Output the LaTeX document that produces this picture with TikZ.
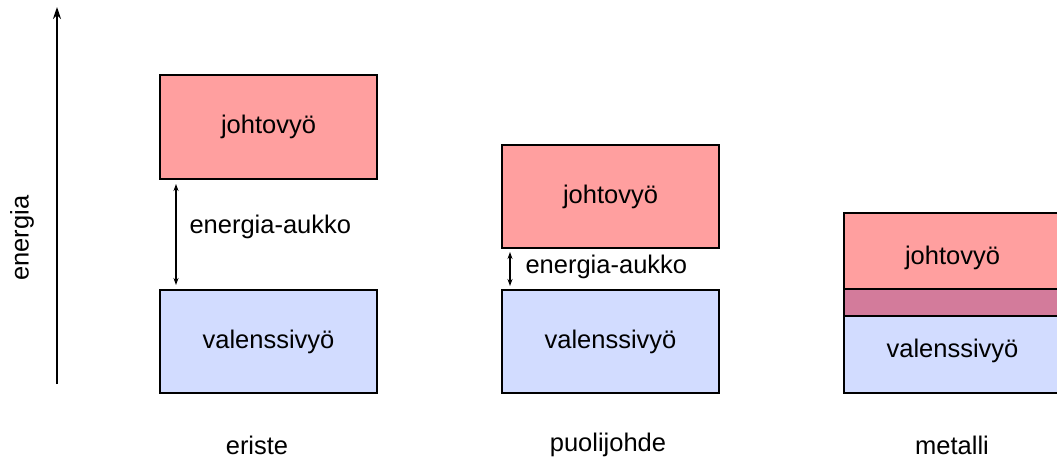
\documentclass[tikz,border=0pt]{standalone}
\usepackage{fontspec}
\setmainfont{Liberation Sans}
\usetikzlibrary{arrows.meta}
\definecolor{cred}{HTML}{FF9F9F}
\definecolor{cblue}{HTML}{D2DCFF}
\definecolor{cmix}{HTML}{D37B9B}
\begin{document}
\begin{tikzpicture}[x=1pt,y=1pt,
  every node/.style={font=\fontsize{25.5}{30}\selectfont, text=black},
  band/.style={draw=black, line width=2pt, minimum width=217pt, anchor=north west, inner sep=0pt},
  cb/.style={band, fill=cred},
  vb/.style={band, fill=cblue},
  gap/.style={{Stealth[length=7pt,width=5pt]}-{Stealth[length=7pt,width=5pt]}, line width=1.1pt}]
\useasboundingbox (0,0) rectangle (1057,-461);
% axis
\coordinate (a0) at (57,-384);
\coordinate (a1) at (57,-7);
\draw[-{Stealth[length=12pt,width=8pt]}, line width=1.2pt] (a0) -- (a1);
\node[rotate=90] (ax) at (22,-238) {energia};
% eriste
\node[cb, minimum height=104pt] (ej) at (159,-74) {johtovyö};
\node[vb, minimum height=103pt] (ev) at (159,-289) {valenssivyö};
\draw[gap] ([xshift=17pt,yshift=-4pt]ej.south west) -- ([xshift=17pt,yshift=4pt]ev.north west);
\node[anchor=west] (eg) at (186,-227) {energia-aukko};
\node (el) at (257,-445) {eriste};
% puolijohde
\node[cb, minimum height=103pt] (pj) at (501,-144) {johtovyö};
\node[vb, minimum height=103pt] (pv) at (501,-289) {valenssivyö};
\draw[gap] ([xshift=9pt,yshift=-3pt]pj.south west) -- ([xshift=9pt,yshift=3pt]pv.north west);
\node[anchor=west] (pg) at (522,-267) {energia-aukko};
\node (pl) at (608,-445) {puolijohde};
% metalli
\node[cb, minimum height=76pt] (mj) at (843,-212) {};
\node[band, fill=cmix, minimum height=27pt] (mm) at (843,-288) {};
\node[vb, minimum height=77pt] (mv) at (843,-315) {};
\node (mjt) at ([yshift=-7pt]mj.center) {johtovyö};
\node (mvt) at ([yshift=4pt]mv.center) {valenssivyö};
\node (ml) at (952,-445) {metalli};
\end{tikzpicture}
\end{document}
